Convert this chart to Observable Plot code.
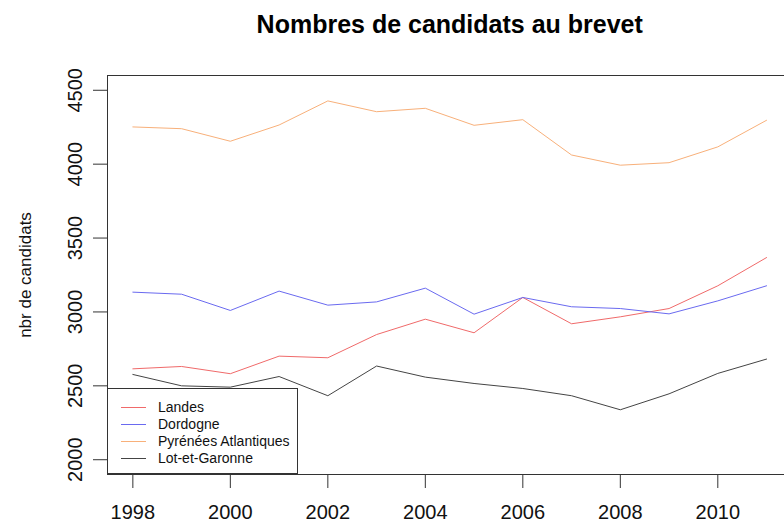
<!DOCTYPE html>
<html>
<head>
<meta charset="utf-8">
<script src="https://cdn.jsdelivr.net/npm/d3@7"></script>
<script src="https://cdn.jsdelivr.net/npm/@observablehq/plot@0.6"></script>
<style>
  html, body { margin: 0; padding: 0; background: #fff; overflow: hidden; }
  #wrap { position: relative; width: 784px; height: 523px; font-family: "Liberation Sans", Arial, sans-serif; }
  #legend { position: absolute; left: 107px; top: 388px; width: 189px; height: 84px; border: 1px solid #333; background: #fff; }
  .item { position: absolute; left: 0; height: 17px; font-size: 14px; line-height: 17px; color: #111; }
  .sw { position: absolute; left: 13px; top: 8px; width: 25px; height: 0; border-top: 1px solid; }
  .lb { position: absolute; left: 50px; top: 0; white-space: nowrap; }
</style>
</head>
<body>
<div id="wrap"></div>
<script>
const years = [1998,1999,2000,2001,2002,2003,2004,2005,2006,2007,2008,2009,2010,2011];
const seriesNames = ["Landes", "Dordogne", "Pyrénées Atlantiques", "Lot-et-Garonne"];
const seriesColors = ["#f06a6a", "#6a6af0", "#f8b07a", "#444444"];
const landes = [2615,2631,2582,2701,2690,2847,2951,2859,3098,2920,2967,3023,3177,3368];
const dordogne = [3134,3120,3010,3141,3046,3068,3161,2985,3098,3035,3023,2987,3075,3177];
const pyrenees = [4252,4240,4155,4265,4428,4355,4378,4263,4301,4062,3993,4010,4117,4297];
const lotGaronne = [2577,2500,2491,2563,2433,2634,2559,2516,2482,2433,2338,2446,2584,2681];
const xTicks = [1998,2000,2002,2004,2006,2008,2010];
const yTicks = [2000,2500,3000,3500,4000,4500];
const title = "Nombres de candidats au brevet";
const yLabel = "nbr de candidats";

const allSeries = [landes, dordogne, pyrenees, lotGaronne];
const rows = [];
allSeries.forEach((vals, i) => vals.forEach((v, j) => rows.push({year: years[j], value: v, series: seriesNames[i]})));

const font = "'Liberation Sans', Arial, sans-serif";
const chart = Plot.plot({
  width: 784,
  height: 523,
  marginTop: 75,
  marginBottom: 49,
  marginLeft: 107,
  marginRight: -7.4,
  style: {fontFamily: font, background: "#fff", color: "#111"},
  x: {domain: [1997.48, 2011.52], axis: null},
  y: {domain: [1900, 4600], axis: null},
  color: {domain: seriesNames, range: seriesColors},
  marks: [
    Plot.axisX({ticks: xTicks, tickSize: 14, tickFormat: () => "", stroke: "#333", label: null}),
    Plot.axisY({ticks: yTicks, tickSize: 14, tickFormat: () => "", stroke: "#333", label: null}),
    Plot.text(xTicks, {x: d => d, frameAnchor: "bottom", dy: 38, text: d => String(d), fontSize: 20, lineAnchor: "middle", fill: "#111"}),
    Plot.text(yTicks, {y: d => d, frameAnchor: "left", dx: -32, text: d => String(d), fontSize: 20, rotate: -90, textAnchor: "middle", lineAnchor: "middle", fill: "#111"}),
    Plot.text([yLabel], {frameAnchor: "left", dx: -82, text: d => d, fontSize: 17, rotate: -90, textAnchor: "middle", lineAnchor: "middle", fill: "#111"}),
    Plot.text([title], {frameAnchor: "top", dy: -51, text: d => d, fontSize: 25, fontWeight: "bold", lineAnchor: "middle", fill: "#000"}),
    Plot.lineY(rows, {x: "year", y: "value", z: "series", stroke: "series", strokeWidth: 1}),
    Plot.frame({stroke: "#333", strokeWidth: 1})
  ]
});
const wrap = document.getElementById("wrap");
wrap.appendChild(chart);

const legend = document.createElement("div");
legend.id = "legend";
seriesNames.forEach((name, i) => {
  const item = document.createElement("div");
  item.className = "item";
  item.style.top = (10 + i * 17) + "px";
  item.style.width = "189px";
  const sw = document.createElement("div");
  sw.className = "sw";
  sw.style.borderTopColor = seriesColors[i];
  const lb = document.createElement("div");
  lb.className = "lb";
  lb.textContent = name;
  item.appendChild(sw);
  item.appendChild(lb);
  legend.appendChild(item);
});
wrap.appendChild(legend);
</script>
</body>
</html>
